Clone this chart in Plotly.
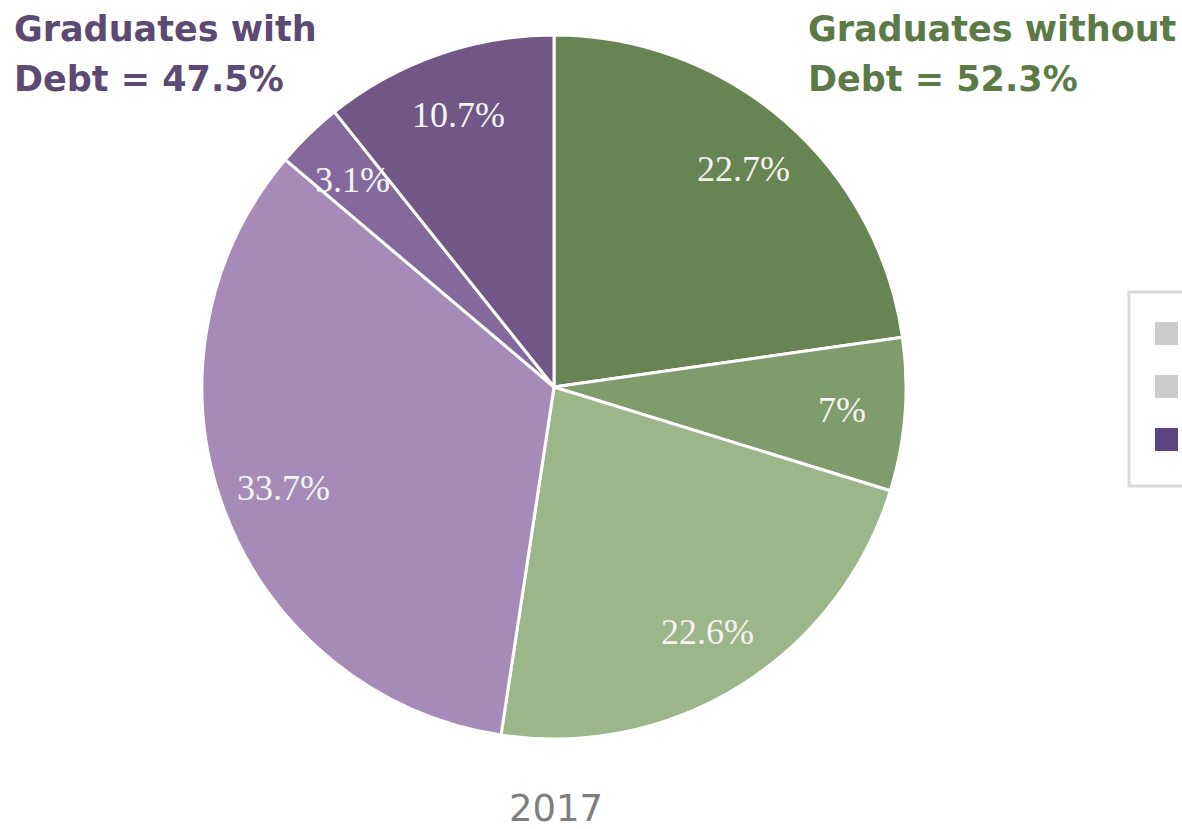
import math
import plotly.graph_objects as go

# Share of graduates by debt group (percent), clockwise from 12 o'clock
segments = [
    "Without debt – A",
    "Without debt – B",
    "Without debt – C",
    "With debt – A",
    "With debt – B",
    "With debt – C",
]
shares = [22.7, 7.0, 22.6, 33.7, 3.1, 10.7]
has_debt = [False, False, False, True, True, True]
slice_colors = ["#678553", "#7f9d6c", "#9cb68b", "#a68ab8", "#86699c", "#725686"]
year_label = "2017"

# legend swatches shown at the right edge
legend_swatches = ["#cccccc", "#cccccc", "#5c4383"]

W, H = 1182, 829
CX, CY, R = 554, 387, 352  # pie centre and radius in pixels


def px(x):
    return x / W


def py(y):
    return 1 - y / H


fig = go.Figure(
    go.Pie(
        labels=segments,
        values=shares,
        sort=False,
        direction="clockwise",
        rotation=0,
        textinfo="none",
        hoverinfo="label+value",
        marker=dict(colors=slice_colors, line=dict(color="white", width=3)),
        domain=dict(x=[px(CX - R), px(CX + R)], y=[py(CY + R), py(CY - R)]),
        showlegend=False,
    )
)

# slice value labels placed along each slice's mid-angle
total = sum(shares)
cum = 0.0
annotations = []
for v in shares:
    mid = (cum + v / 2) / total * 2 * math.pi
    cum += v
    lx = CX + 0.82 * R * math.sin(mid)
    ly = CY - 0.82 * R * math.cos(mid)
    annotations.append(
        dict(
            x=px(lx), y=py(ly), xref="paper", yref="paper",
            text=f"{v:g}%", showarrow=False,
            font=dict(family="Liberation Serif", size=36, color="#f4f4f0"),
            xanchor="center", yanchor="middle",
        )
    )

with_debt = sum(v for v, d in zip(shares, has_debt) if d)
without_debt = sum(v for v, d in zip(shares, has_debt) if not d)

heading_font = "DejaVu Sans"
for x0, lines, col in [
    (12, ["Graduates with", f"Debt = {with_debt:.1f}%"], "#5b4a72"),
    (806, ["Graduates without", f"Debt = {without_debt:.1f}%"], "#5b7a47"),
]:
    for i, line in enumerate(lines):
        annotations.append(
            dict(
                x=px(x0), y=py(29 + 50 * i), xref="paper", yref="paper",
                text=f"<b>{line}</b>", showarrow=False,
                font=dict(family=heading_font, size=35, color=col),
                xanchor="left", yanchor="middle",
            )
        )

annotations.append(
    dict(
        x=px(556), y=py(808), xref="paper", yref="paper",
        text=year_label, showarrow=False,
        font=dict(family="DejaVu Sans", size=37, color="#7f7f7f"),
        xanchor="center", yanchor="middle",
    )
)

# legend frame and swatches
shapes = [
    dict(type="rect", xref="paper", yref="paper",
         x0=px(1129), x1=px(1200), y0=py(486), y1=py(292),
         line=dict(color="#d9d9d9", width=3), fillcolor="rgba(0,0,0,0)")
]
for i, c in enumerate(legend_swatches):
    top = 322 + 53 * i
    shapes.append(
        dict(type="rect", xref="paper", yref="paper",
             x0=px(1155), x1=px(1178), y0=py(top + 23), y1=py(top),
             line=dict(width=0), fillcolor=c)
    )

fig.update_layout(
    width=W, height=H,
    margin=dict(l=0, r=0, t=0, b=0),
    paper_bgcolor="white",
    plot_bgcolor="white",
    annotations=annotations,
    shapes=shapes,
)

fig.write_html("out.html")
